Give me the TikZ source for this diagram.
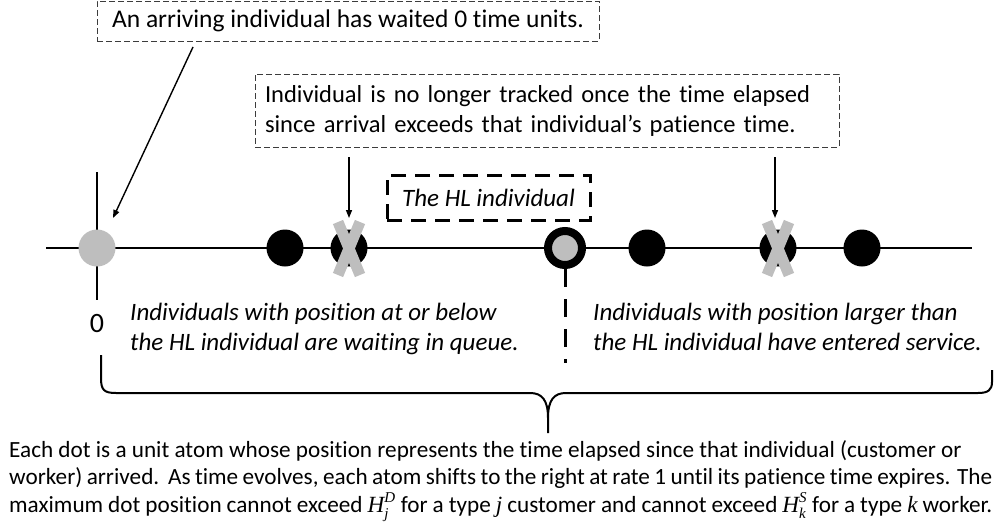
\documentclass[tikz,border=0pt]{standalone}
\usepackage{fontspec}
\setmainfont{Carlito}[Ligatures=NoCommon]
\newfontfamily\cambriaf{Liberation Serif}
\usetikzlibrary{arrows.meta}
\definecolor{graydot}{RGB}{190,190,190}
\definecolor{boxline}{RGB}{60,60,60}
\newcommand\mvar[1]{{\cambriaf\itshape #1}}
\newcommand\Hvar[2]{\mvar{H}$^{\hbox{\fontsize{15pt}{15pt}\cambriaf\itshape #2}}_{\hbox{\fontsize{15pt}{15pt}\cambriaf\itshape #1}}$}
\begin{document}
\begin{tikzpicture}[x=1pt,y=-1pt,
  axis/.style={line width=2pt},
  bdot/.style={circle,fill=black,minimum size=37pt,inner sep=0pt},
  gdot/.style={circle,fill=graydot,minimum size=37pt,inner sep=0pt},
  hldot/.style={circle,fill=graydot,draw=black,line width=8pt,minimum size=34pt,inner sep=0pt},
  xstroke/.style={draw=graydot,line width=11pt},
  thinbox/.style={draw=boxline,dashed,dash pattern=on 6pt off 3pt,line width=1pt,inner sep=0pt},
  thickbox/.style={draw=black,line width=3pt,dash pattern=on 15pt off 9pt,inner sep=0pt},
  callout/.style={line width=1.4pt,-{Triangle[length=8pt,width=6pt]}},
  txt/.style={font=\fontsize{25.5pt}{30pt}\selectfont},
  txtb/.style={font=\fontsize{24.5pt}{30pt}\selectfont},
  itxt/.style={font=\fontsize{25pt}{30pt}\selectfont\itshape},
  para/.style={font=\fontsize{23.2pt}{27.5pt}\selectfont,inner sep=0pt,anchor=base west}
]
\useasboundingbox (0,0) rectangle (995,522);

% top dashed boxes
\node[thinbox,txt,minimum width=502pt,minimum height=40pt] (arrbox) at (348,21) {An arriving individual has waited 0 time units.};
\node[thinbox,txtb,minimum width=584pt,minimum height=73pt,align=left,text width=564pt] (trackbox) at (547,110.5)
  {Individual is no longer tracked once the time elapsed\\since arrival exceeds that individual’s patience time.};

% HL box
\node[thickbox,itxt,minimum width=203pt,minimum height=45pt] (hlbox) at (488.5,197.5) {The HL individual};

% axis and zero tick
\coordinate (axL) at (46,248);
\coordinate (axR) at (972,248);
\draw[axis] (axL) -- (axR);
\coordinate (v0top) at (97,172);
\coordinate (v0bot) at (97,300);
\draw[axis] (v0top) -- (v0bot);

% dots
\node[gdot] (g0) at (97,248) {};
\node[bdot] (b1) at (285,248) {};
\node[bdot] (x1) at (349,248) {};
\node[hldot] (hl) at (565,248) {};
\node[bdot] (b2) at (647,248) {};
\node[bdot] (x2) at (778,248) {};
\node[bdot] (b3) at (862,248) {};

% crosses
\foreach \n in {x1,x2}{
  \draw[xstroke] ([shift={(-11,-26)}]\n.center) -- ([shift={(11,27)}]\n.center);
  \draw[xstroke] ([shift={(11,-26)}]\n.center) -- ([shift={(-11,27)}]\n.center);
}

% dashed divider below HL
\coordinate (hlend) at (565,363);
\draw[line width=3pt,dash pattern=on 18pt off 12pt] (hl.south) -- (hlend);

% callout arrows
\coordinate (a0s) at (193,47);
\coordinate (a0e) at (113,218);
\draw[callout] (a0s) -- (a0e);
\coordinate (a1s) at (349,157);
\coordinate (a1e) at (349,218);
\draw[callout] (a1s) -- (a1e);
\coordinate (a2s) at (775,157);
\coordinate (a2e) at (775,218);
\draw[callout] (a2s) -- (a2e);

% labels
\node[font=\fontsize{28pt}{30pt}\selectfont,anchor=base,inner sep=0pt] (zero) at (97,332) {0};
\node[itxt,anchor=base west,inner sep=0pt] (left1) at (130,320) {Individuals with position at or below};
\node[itxt,anchor=base west,inner sep=0pt] (left2) at (130,350) {the HL individual are waiting in queue.};
\node[itxt,anchor=base west,inner sep=0pt] (right1) at (593,320) {Individuals with position larger than};
\node[itxt,anchor=base west,inner sep=0pt] (right2) at (593,350) {the HL individual have entered service.};

% brace
\coordinate (brL) at (101,355);
\coordinate (brR) at (992,370);
\coordinate (brTip) at (548,433);
\draw[line width=2pt,line join=round]
  (brL) -- (101,378) .. controls (101,390) and (104,393) .. (116,393)
  -- (530,393) .. controls (542,393) and (548,400) .. (548,418) -- (brTip)
  (548,418) .. controls (548,400) and (554,393) .. (566,393)
  -- (978,393) .. controls (988,393) and (992,390) .. (992,382) -- (brR);

% bottom paragraph
\node[para] (para1) at (9,457)
  {Each dot is a unit atom whose position represents the time elapsed since that individual (customer or};
\node[para] (para2) at (9,484)
  {\makebox[983pt][s]{worker) arrived.\ \ As time evolves, each atom shifts to the right at rate 1 until its patience time expires. The}};
\node[para] (para3) at (9,512)
  {\makebox[983pt][s]{maximum dot position cannot exceed \Hvar{j}{D} for a type \mvar{j} customer and cannot exceed \Hvar{k}{S} for a type \mvar{k} worker.}};
\end{tikzpicture}
\end{document}
